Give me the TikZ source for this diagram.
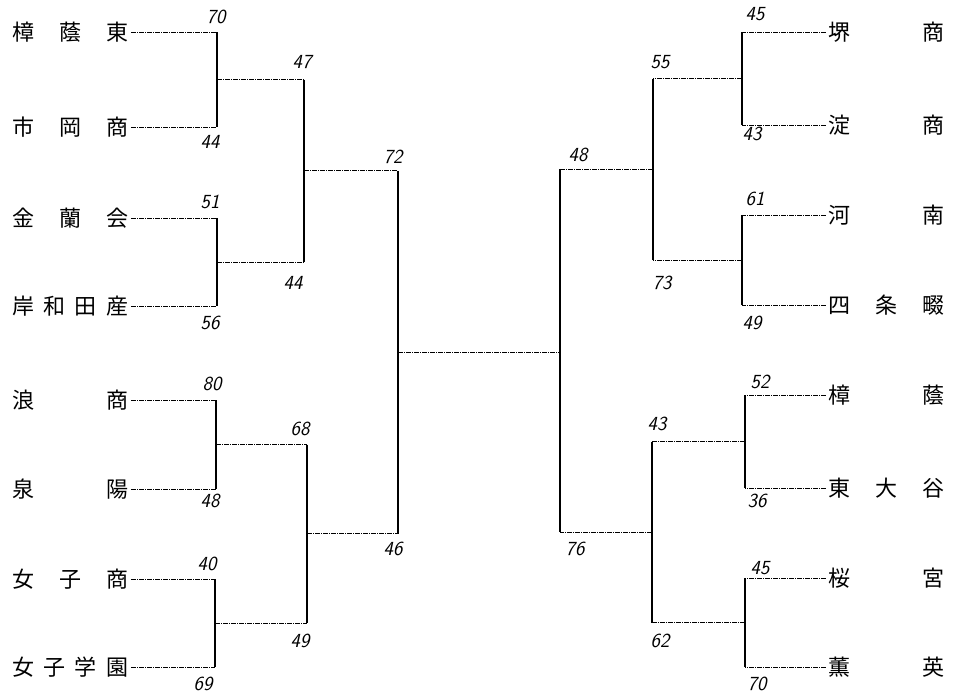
\documentclass[tikz,border=0pt]{standalone}
\usepackage{fontspec}
\newfontfamily\jpfont{Noto Sans CJK JP}
\usepackage{tikz}
\usetikzlibrary{positioning,calc}

\tikzset{
  team/.style={font=\jpfont\fontsize{22}{22}\selectfont,inner xsep=3pt,inner ysep=0pt},
  score/.style={font=\sffamily\itshape\fontsize{20}{20}\selectfont,inner sep=0pt},
  tie/.style={line width=0.8pt,dash pattern=on 5pt off 1pt on 1pt off 1pt},
  bar/.style={line width=1.1pt}
}

\begin{document}
\begin{tikzpicture}[x=1pt,y=-1pt]
        \useasboundingbox (0,0) rectangle (957,696);

        \foreach \n/\y/\t in {l1/32/{樟\hfill 蔭\hfill 東},l2/127/{市\hfill 岡\hfill 商},
                              l3/218/{金\hfill 蘭\hfill 会},l4/306/{岸\hfill 和\hfill 田\hfill 産},
                              l5/400/{浪\hfill 商},l6/489/{泉\hfill 陽},
                              l7/579/{女\hfill 子\hfill 商},l8/667/{女\hfill 子\hfill 学\hfill 園}}
            \node[team,anchor=west] (\n) at (9,\y) {\makebox[116pt]{\t}};

        \foreach \n/\y/\t in {r1/32/{堺\hfill 商},r2/125/{淀\hfill 商},
                              r3/215/{河\hfill 南},r4/305/{四\hfill 条\hfill 畷},
                              r5/395/{樟\hfill 蔭},r6/488/{東\hfill 大\hfill 谷},
                              r7/578/{桜\hfill 宮},r8/667/{薫\hfill 英}}
            \node[team,anchor=east] (\n) at (948,\y) {\makebox[116pt]{\t}};

        \foreach \a/\b/\x/\m in {l1/l2/217/la,l3/l4/217/lb,l5/l6/216/lc,l7/l8/215/ld} {
            \draw[tie] (\a.east) -- (\a.east -| \x,0);
            \draw[tie] (\b.east) -- (\b.east -| \x,0);
            \draw[bar] (\a.east -| \x,0) -- (\b.east -| \x,0);
            \coordinate (\m) at ($(\a.east -| \x,0)!0.5!(\b.east -| \x,0)$);
        }
        \foreach \a/\b/\x/\m in {r1/r2/742/ra,r3/r4/742/rb,r5/r6/745/rc,r7/r8/745/rd} {
            \draw[tie] (\a.west) -- (\a.west -| \x,0);
            \draw[tie] (\b.west) -- (\b.west -| \x,0);
            \draw[bar] (\a.west -| \x,0) -- (\b.west -| \x,0);
            \coordinate (\m) at ($(\a.west -| \x,0)!0.5!(\b.west -| \x,0)$);
        }

        \foreach \a/\b/\x/\m in {la/lb/304/lab,lc/ld/307/lcd,ra/rb/653/rab,rc/rd/652/rcd} {
            \draw[tie] (\a) -- (\a -| \x,0);
            \draw[tie] (\b) -- (\b -| \x,0);
            \draw[bar] (\a -| \x,0) -- (\b -| \x,0);
            \coordinate (\m) at ($(\a -| \x,0)!0.5!(\b -| \x,0)$);
        }

        \foreach \a/\b/\x/\m in {lab/lcd/398/left,rab/rcd/560/right} {
            \draw[tie] (\a) -- (\a -| \x,0);
            \draw[tie] (\b) -- (\b -| \x,0);
            \draw[bar] (\a -| \x,0) -- (\b -| \x,0);
            \coordinate (\m) at ($(\a -| \x,0)!0.5!(\b -| \x,0)$);
        }
        \draw[tie] (left) -- (left -| right);

        \foreach \p/\v [count=\i] in {{(216,17)}/70,{(210,142)}/44,{(210,202)}/51,{(210,323)}/56,
                                      {(212,384)}/80,{(210,501)}/48,{(207,564)}/40,{(203,684)}/69,
                                      {(302,62)}/47,{(293,283)}/44,{(300,429)}/68,{(300,641)}/49,
                                      {(393,157)}/72,{(393,549)}/46,{(578,155)}/48,{(575,549)}/76,
                                      {(660,62)}/55,{(662,283)}/73,{(657,424)}/43,{(660,641)}/62,
                                      {(755,14)}/45,{(752,134)}/43,{(755,199)}/61,{(752,323)}/49,
                                      {(760,382)}/52,{(757,501)}/36,{(760,568)}/45,{(757,684)}/70}
            \node[score] (sc\i) at \p {\v};
\end{tikzpicture}
\end{document}
